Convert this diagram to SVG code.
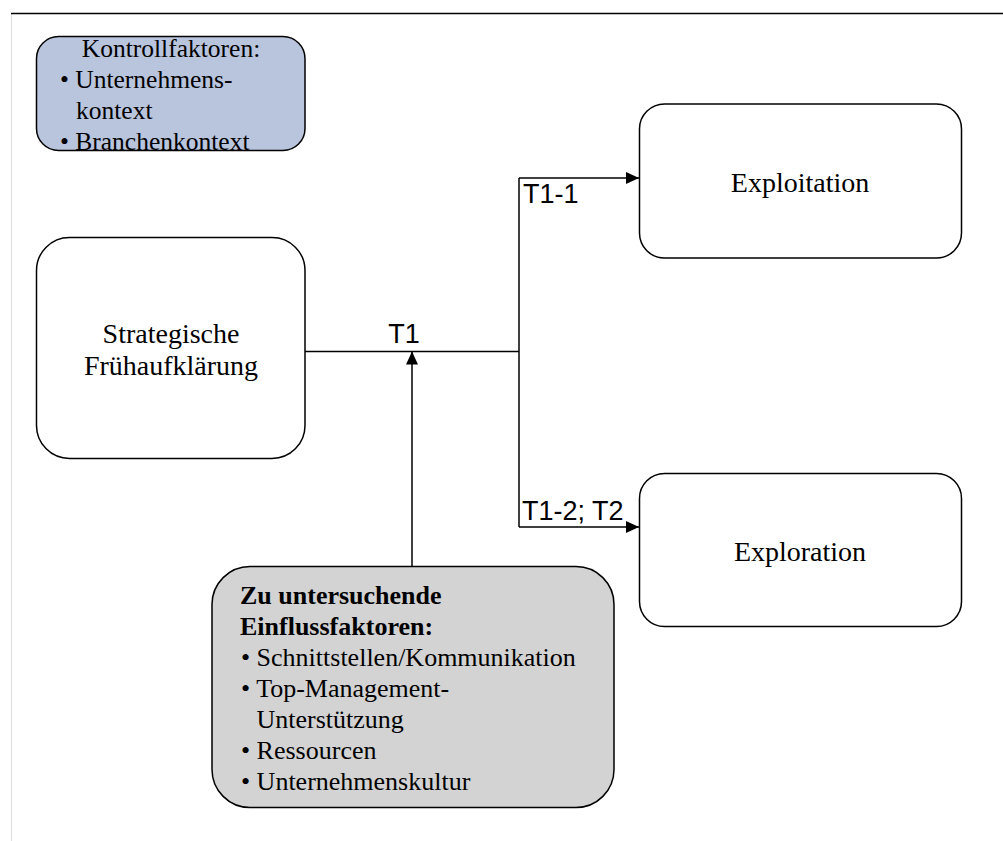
<svg xmlns="http://www.w3.org/2000/svg" width="1003" height="841" viewBox="0 0 1003 841">
  <style>
    .box { stroke: #000; stroke-width: 1.5; }
    .serif { font-family: "Liberation Serif", "Times New Roman", serif; fill: #000; }
    .big { font-size: 28px; }
    .list { font-size: 25.5px; }
    .lbl { font-family: "Liberation Sans", Arial, sans-serif; font-size: 27px; fill: #000; }
    .wire { fill: none; stroke: #000; stroke-width: 1.5; }
  </style>
  <defs>
    <marker id="arrow" viewBox="0 0 13 12" refX="13" refY="6" markerWidth="13" markerHeight="12" markerUnits="userSpaceOnUse" orient="auto">
      <path d="M0,0 L13,6 L0,12 Z" fill="#000"/>
    </marker>
  </defs>

  <rect width="1003" height="841" fill="#fff"/>

  <!-- page frame -->
  <line x1="11.5" y1="14" x2="11.5" y2="841" stroke="#e0e0e0" stroke-width="1.2"/>
  <line x1="11" y1="13.5" x2="1003" y2="13.5" stroke="#000" stroke-width="1.4"/>

  <!-- connectors -->
  <g id="connectors">
    <path class="wire" d="M305,351.5 H519"/>
    <path class="wire" d="M519,527 V178"/>
    <path class="wire" d="M519,178 H639" marker-end="url(#arrow)"/>
    <path class="wire" d="M519,527 H639" marker-end="url(#arrow)"/>
    <path class="wire" d="M412,566 V351.5" marker-end="url(#arrow)"/>
    <text class="lbl" x="404" y="343" text-anchor="middle">T1</text>
    <text class="lbl" x="523" y="203">T1-1</text>
    <text class="lbl" x="522" y="520">T1-2; T2</text>
  </g>

  <!-- control factors -->
  <g id="kontrollfaktoren">
    <rect x="36.5" y="36.5" width="268.5" height="114" rx="22" fill="#b9c5dd"/>
    <text class="serif list" x="171" y="57" text-anchor="middle">Kontrollfaktoren:</text>
    <text class="serif list" x="60" y="88">• Unternehmens-</text>
    <text class="serif list" x="76" y="119">kontext</text>
    <text class="serif list" x="60" y="150">• Branchenkontext</text>
    <rect class="box" x="36.5" y="36.5" width="268.5" height="114" rx="22" fill="none"/>
  </g>

  <!-- early warning -->
  <g id="fruehaufklaerung">
    <rect class="box" x="36.5" y="237.5" width="268.5" height="221" rx="33" fill="#fff"/>
    <text class="serif big" x="171" y="343" text-anchor="middle">Strategische</text>
    <text class="serif big" x="171" y="375" text-anchor="middle">Frühaufklärung</text>
  </g>

  <!-- exploitation -->
  <g id="exploitation">
    <rect class="box" x="639.5" y="104" width="322" height="154" rx="25" fill="#fff"/>
    <text class="serif big" x="800" y="192" text-anchor="middle">Exploitation</text>
  </g>

  <!-- exploration -->
  <g id="exploration">
    <rect class="box" x="639.5" y="473.5" width="322" height="153" rx="25" fill="#fff"/>
    <text class="serif big" x="800" y="561" text-anchor="middle">Exploration</text>
  </g>

  <!-- factors to be examined -->
  <g id="einflussfaktoren">
    <rect class="box" x="212" y="566.5" width="402" height="241" rx="38" fill="#d3d3d3"/>
    <text class="serif" font-size="26" font-weight="bold" x="240" y="604">Zu untersuchende</text>
    <text class="serif" font-size="26" font-weight="bold" x="240" y="635">Einflussfaktoren:</text>
    <text class="serif" font-size="26" x="241" y="666">• Schnittstellen/Kommunikation</text>
    <text class="serif" font-size="26" x="241" y="697">• Top-Management-</text>
    <text class="serif" font-size="26" x="256.5" y="728">Unterstützung</text>
    <text class="serif" font-size="26" x="241" y="759">• Ressourcen</text>
    <text class="serif" font-size="26" x="241" y="790">• Unternehmenskultur</text>
  </g>
</svg>
